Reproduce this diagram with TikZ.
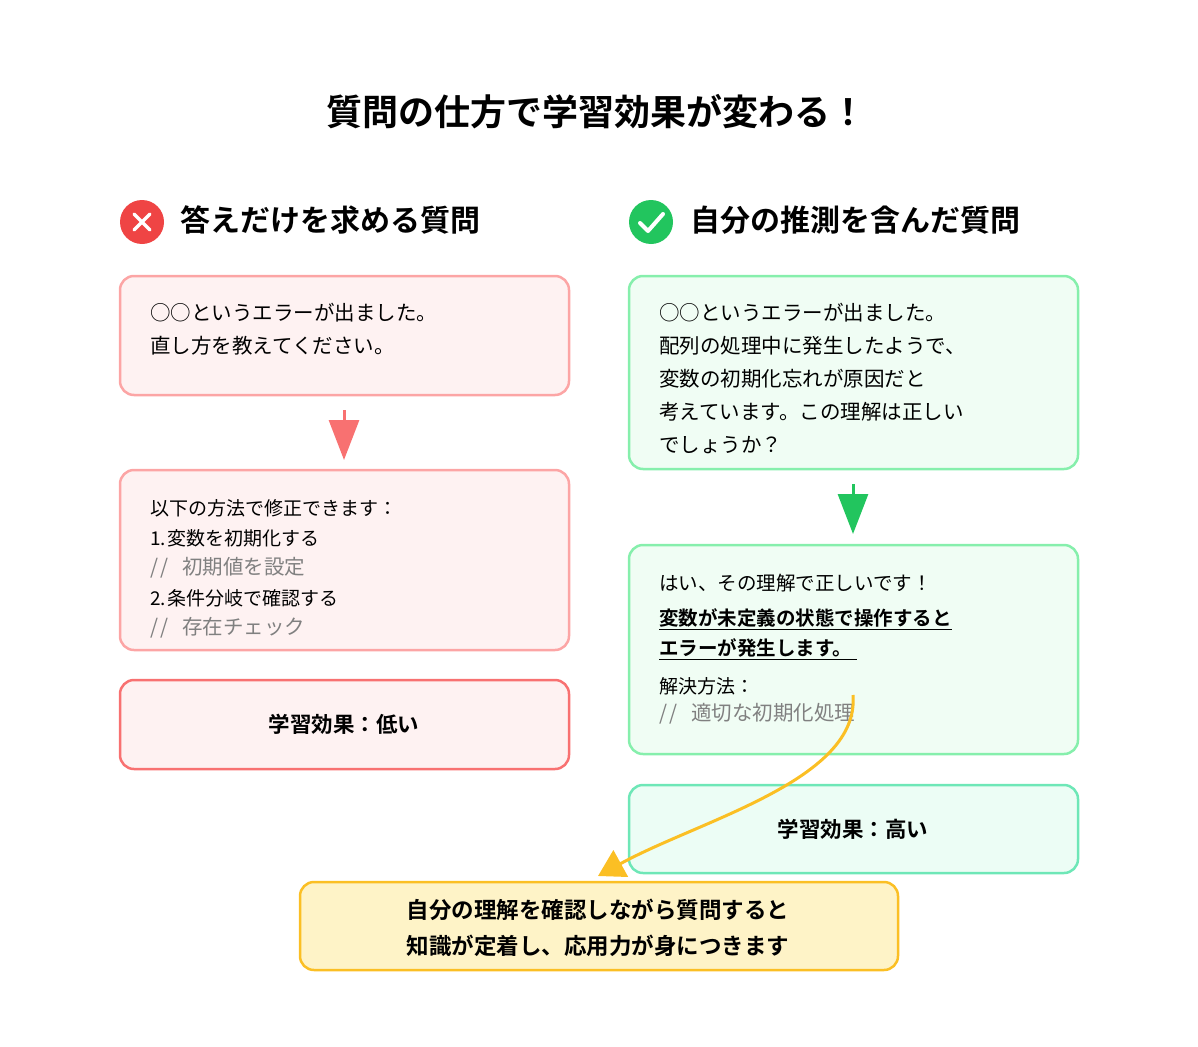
\documentclass[tikz,border=0pt]{standalone}
\usepackage{fontspec}
\setmainfont{Noto Sans CJK JP}
\newfontfamily\jpb{Noto Sans CJK JP Bold}
\usetikzlibrary{arrows.meta}
\definecolor{rfill}{HTML}{FEF2F2}
\definecolor{rline}{HTML}{FCA5A5}
\definecolor{rdark}{HTML}{F87171}
\definecolor{gfill}{HTML}{F0FDF4}
\definecolor{gline}{HTML}{86EFAC}
\definecolor{gdark}{HTML}{22C55E}
\definecolor{g3fill}{HTML}{ECFDF5}
\definecolor{g3line}{HTML}{6EE7B7}
\definecolor{yfill}{HTML}{FEF3C7}
\definecolor{yline}{HTML}{FBBF24}
\definecolor{xred}{HTML}{EF4444}
\tikzset{
 bx/.style={rounded corners=14pt, line width=2.5pt},
 tx/.style={anchor=west, inner sep=0pt, font=\fontsize{20.5}{24}\selectfont},
 cmt/.style={tx, text=gray},
 bt/.style={inner sep=0pt, font=\jpb\fontsize{21.5}{26}\selectfont},
 bt2/.style={inner sep=0pt, font=\jpb\fontsize{22.5}{26}\selectfont},
 hd/.style={anchor=west, inner sep=0pt, font=\jpb\fontsize{30}{36}\selectfont},
}
\newcommand{\slsl}{/\kern2pt/\kern14pt}
\begin{document}
\begin{tikzpicture}[x=1pt,y=-1pt]
\useasboundingbox (0,0) rectangle (1198,1046);
\node[inner sep=0pt, font=\jpb\fontsize{36}{40}\selectfont] (title) at (596,112) {質問の仕方で学習効果が変わる！};
% headers
\fill[xred] (142,222) circle (22) coordinate (xc);
\draw[white, line width=3.5pt, line cap=round] (134,214)--(150,230) (150,214)--(134,230);
\node[hd] (lh) at (180,220) {答えだけを求める質問};
\fill[gdark] (651,222) circle (22);
\draw[white, line width=4pt, line cap=round, line join=round] (640,223)--(648,231)--(663,214);
\node[hd] (rh) at (690,220) {自分の推測を含んだ質問};
% left boxes
\draw[bx, fill=rfill, draw=rline] (120,276) rectangle (569,395);
\node[tx] (l1a) at (150,313) {○○というエラーが出ました。};
\node[tx] (l1b) at (150,346) {直し方を教えてください。};
\coordinate (la1) at (344,410); \coordinate (la2) at (344,460);
\draw[rdark, line width=3pt, -{Triangle[width=30pt,length=40pt]}] (la1)--(la2);
\draw[bx, fill=rfill, draw=rline] (120,470) rectangle (569,650);
\node[tx, font=\fontsize{19}{22}\selectfont] at (150,508) {以下の方法で修正できます：};
\node[tx, font=\fontsize{19}{22}\selectfont] at (150,538) {1.\kern1pt 変数を初期化する};
\node[cmt] at (150,568) {\slsl 初期値を設定};
\node[tx, font=\fontsize{19}{22}\selectfont] at (150,598) {2.\kern1pt 条件分岐で確認する};
\node[cmt] at (150,628) {\slsl 存在チェック};
\draw[bx, fill=rfill, draw=rdark] (120,680) rectangle (569,769);
\node[bt] (low) at (344,724) {学習効果：低い};
% right boxes
\draw[bx, fill=gfill, draw=gline] (629,276) rectangle (1078,469);
\node[tx] at (659,313) {○○というエラーが出ました。};
\node[tx] at (659,346) {配列の処理中に発生したようで、};
\node[tx] at (659,379) {変数の初期化忘れが原因だと};
\node[tx] at (659,412) {考えています。この理解は正しい};
\node[tx] at (659,445) {でしょうか？};
\coordinate (ga1) at (853,484); \coordinate (ga2) at (853,534);
\draw[gdark, line width=3pt, -{Triangle[width=30pt,length=40pt]}] (ga1)--(ga2);
\draw[bx, fill=gfill, draw=gline] (629,545) rectangle (1078,754);
\node[tx, font=\fontsize{19.5}{22}\selectfont] at (659,583) {はい、その理解で正しいです！};
\node[tx, font=\jpb\fontsize{19.5}{22}\selectfont] at (659,619) {\underline{変数が未定義の状態で操作すると}};
\node[tx, font=\jpb\fontsize{19.5}{22}\selectfont] at (659,649) {\underline{エラーが発生します。\ }};
\node[tx, font=\fontsize{19}{22}\selectfont] at (659,686) {解決方法：};
\node[cmt] at (659,714) {\slsl 適切な初期化処理};
\draw[bx, fill=g3fill, draw=g3line] (629,785) rectangle (1078,873);
\node[bt] (high) at (853,829) {学習効果：高い};
% bottom
\draw[bx, fill=yfill, draw=yline] (300,882) rectangle (898,970);
\node[bt2] (s1) at (598,910) {自分の理解を確認しながら質問すると};
\node[bt2] (s2) at (598,946) {知識が定着し、応用力が身につきます};
\coordinate (c1) at (853,695); \coordinate (c2) at (598,876);
\draw[yline, line width=3pt, -{Triangle[width=30pt,length=26pt]}] (c1) .. controls (860,780) and (700,820) .. (c2);
\end{tikzpicture}
\end{document}
